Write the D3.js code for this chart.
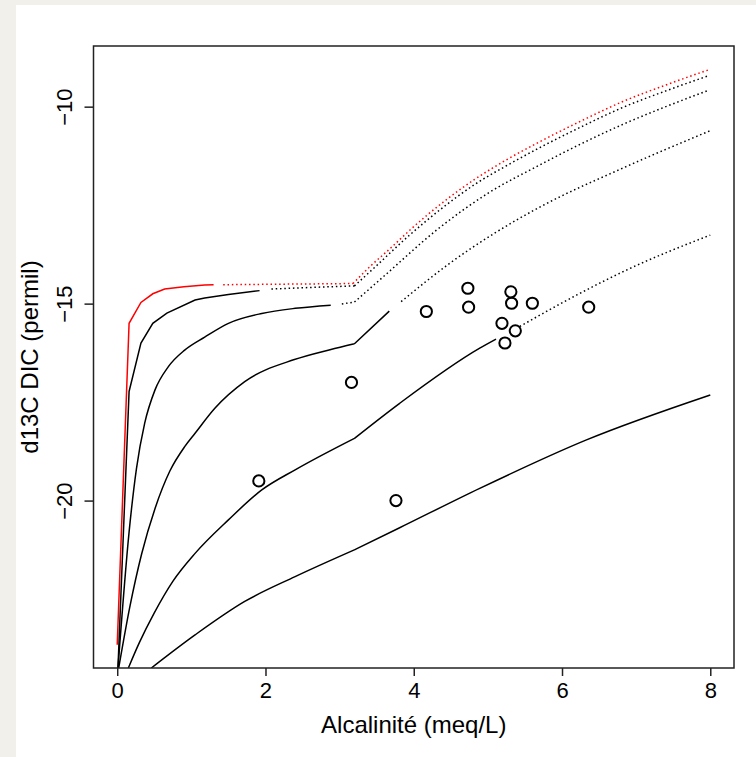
<!DOCTYPE html>
<html lang="fr">
<head>
  <meta charset="UTF-8">
  <title>d13C DIC vs Alcalinité</title>
  <style>
    body { margin: 0; background: #f1f0ea; }
    .canvas { position: absolute; left: 16px; top: 5px; width: 740px; height: 752px; background: #fff; }
    svg { position: absolute; left: 0; top: 0; }
    text { font-family: "Liberation Sans", Arial, sans-serif; fill: #000; }
  </style>
</head>
<body>
  <div class="canvas"></div>
  <svg id="chart"></svg>
  <script src="https://d3js.org/d3.v7.min.js"></script>
  <script>
    // observed samples
    const alkalinity = [4.73, 5.31, 4.17, 4.74, 5.32, 5.60, 6.36, 5.19, 5.37, 5.23, 3.16, 1.91, 3.76];
    const d13c = [-14.61, -14.70, -15.20, -15.09, -14.99, -14.99, -15.09, -15.50, -15.69, -16.0, -17.0, -19.5, -20.0];

    // model curves, solid part then dotted part
    const redSolid = [[0, -23.66], [0.16, -15.5], [0.32, -14.97], [0.48, -14.75], [0.64, -14.63], [0.9, -14.57], [1.18, -14.53], [1.30, -14.52]];
    const redDotted = [[1.43, -14.52], [2.0, -14.51], [2.6, -14.5], [3.18, -14.49], [3.41, -14.06], [3.7, -13.57], [3.95, -13.13], [4.4, -12.42], [4.81, -11.86], [5.25, -11.35], [5.70, -10.89], [6.25, -10.37], [6.82, -9.87], [7.4, -9.45], [7.97, -9.07]];

    const curve2Solid = [[0.01, -24.25], [0.16, -17.23], [0.32, -16.0], [0.48, -15.5], [0.67, -15.24], [1.05, -14.91], [1.18, -14.86], [1.5, -14.77], [1.92, -14.67]];
    const curve2Dotted = [[2.08, -14.63], [2.6, -14.59], [3.2, -14.55], [3.45, -14.12], [3.95, -13.25], [4.4, -12.55], [4.81, -11.99], [5.25, -11.5], [5.70, -11.04], [6.25, -10.52], [6.82, -10.02], [7.4, -9.6], [7.97, -9.22]];

    const curve3Solid = [[0.01, -24.25], [0.16, -20.8], [0.26, -19.18], [0.37, -18.04], [0.51, -17.19], [0.69, -16.6], [0.91, -16.18], [1.18, -15.85], [1.5, -15.5], [1.95, -15.25], [2.4, -15.12], [2.88, -15.04]];
    const curve3Dotted = [[3.03, -15.01], [3.2, -14.96], [3.6, -14.3], [4.31, -13.13], [5.0, -12.2], [5.70, -11.48], [6.25, -10.95], [6.82, -10.45], [7.4, -10.0], [7.97, -9.59]];

    const curve4Solid = [[0.02, -24.25], [0.17, -22.7], [0.33, -21.35], [0.51, -20.2], [0.71, -19.25], [0.91, -18.63], [1.05, -18.29], [1.32, -17.65], [1.72, -16.98], [2.39, -16.42], [2.87, -16.17], [3.2, -16.02], [3.67, -15.19]];
    const curve4Dotted = [[3.83, -14.95], [4.49, -13.97], [5.1, -13.2], [5.70, -12.55], [6.82, -11.56], [8.0, -10.61]];

    const curve5Solid = [[0.15, -24.25], [0.3, -23.6], [0.5, -22.85], [0.75, -22.05], [1.05, -21.34], [1.5, -20.49], [1.95, -19.73], [2.4, -19.22], [3.2, -18.42], [3.81, -17.53], [4.89, -16.13], [5.11, -15.9]];
    const curve5Dotted = [[5.43, -15.58], [6.2, -14.78], [6.89, -14.13], [8.0, -13.26]];

    const curve6Solid = [[0.46, -24.25], [1.05, -23.41], [1.72, -22.56], [2.4, -21.93], [3.2, -21.25], [3.81, -20.69], [4.89, -19.69], [6.33, -18.46], [8.0, -17.32]];

    const xTicks = [0, 2, 4, 6, 8];
    const yTicks = [-10, -15, -20];
    const kinkX = 3.2;

    const width = 756;
    const height = 757;
    const box = {left: 93.5, top: 46, right: 734, bottom: 668};

    const svg = d3.select('#chart')
      .attr('width', width)
      .attr('height', height);

    const x = d3.scaleLinear().domain([-0.32, 8.32]).range([box.left, box.right]);
    const y = d3.scaleLinear().domain([-24.25, -8.46]).range([box.bottom, box.top]);

    svg.append('clipPath').attr('id', 'plotclip')
      .append('rect')
      .attr('x', box.left).attr('y', box.top)
      .attr('width', box.right - box.left).attr('height', box.bottom - box.top);

    const smooth = d3.line().x(d => x(d[0])).y(d => y(d[1])).curve(d3.curveMonotoneX);
    const straight = d3.line().x(d => x(d[0])).y(d => y(d[1]));

    // the model has a sharp break at the kink, so smooth each side on its own
    function smoothPath(data) {
      const k = data.findIndex(d => Math.abs(d[0] - kinkX) < 0.03);
      if (k <= 0 || k >= data.length - 1) return smooth(data);
      return smooth(data.slice(0, k + 1)) + smooth(data.slice(k));
    }

    const plot = svg.append('g').attr('clip-path', 'url(#plotclip)');

    const curves = [
      {data: redSolid, color: '#ff0000', dotted: false, poly: true},
      {data: redDotted, color: '#ff0000', dotted: true},
      {data: curve2Solid, color: '#000', dotted: false, poly: true},
      {data: curve2Dotted, color: '#000', dotted: true},
      {data: curve3Solid, color: '#000', dotted: false},
      {data: curve3Dotted, color: '#000', dotted: true},
      {data: curve4Solid, color: '#000', dotted: false},
      {data: curve4Dotted, color: '#000', dotted: true},
      {data: curve5Solid, color: '#000', dotted: false},
      {data: curve5Dotted, color: '#000', dotted: true},
      {data: curve6Solid, color: '#000', dotted: false}
    ];

    plot.selectAll('path.curve')
      .data(curves)
      .enter()
      .append('path')
      .attr('class', 'curve')
      .attr('d', d => d.poly ? straight(d.data) : smoothPath(d.data))
      .attr('fill', 'none')
      .attr('stroke', d => d.color)
      .attr('stroke-width', 1.5)
      .attr('stroke-dasharray', d => d.dotted ? '1.5,2.8' : null);

    plot.selectAll('circle')
      .data(alkalinity.map((a, i) => [a, d13c[i]]))
      .enter()
      .append('circle')
      .attr('cx', d => x(d[0]))
      .attr('cy', d => y(d[1]))
      .attr('r', 5.6)
      .attr('fill', 'none')
      .attr('stroke', '#000')
      .attr('stroke-width', 2);

    // R-style axes: box + ticks outside
    svg.append('rect')
      .attr('x', box.left).attr('y', box.top)
      .attr('width', box.right - box.left).attr('height', box.bottom - box.top)
      .attr('fill', 'none').attr('stroke', '#222').attr('stroke-width', 1.5);

    const xAxis = d3.axisBottom(x).tickValues(xTicks).tickSize(8).tickPadding(5).tickFormat(d3.format('d'));
    const yAxis = d3.axisLeft(y).tickValues(yTicks).tickSize(9).tickFormat(d => '\u2212' + Math.abs(d));

    const gX = svg.append('g')
      .attr('transform', `translate(0, ${box.bottom})`)
      .call(xAxis);
    gX.select('.domain').remove();
    gX.selectAll('line').attr('stroke', '#222').attr('stroke-width', 1.5);
    gX.selectAll('text')
      .attr('dy', null).attr('y', 30)
      .style('font-size', '22px')
      .style('font-family', '"Liberation Sans", Arial, sans-serif');

    const gY = svg.append('g')
      .attr('transform', `translate(${box.left}, 0)`)
      .call(yAxis);
    gY.select('.domain').remove();
    gY.selectAll('line').attr('stroke', '#222').attr('stroke-width', 1.5);
    gY.selectAll('text')
      .attr('x', null).attr('dy', null)
      .attr('text-anchor', 'middle')
      .attr('transform', 'translate(-22, 0) rotate(-90)')
      .style('font-size', '22px')
      .style('font-family', '"Liberation Sans", Arial, sans-serif');

    svg.append('text')
      .attr('x', (box.left + box.right) / 2)
      .attr('y', 733)
      .attr('text-anchor', 'middle')
      .style('font-size', '24px')
      .text('Alcalinité (meq/L)');

    svg.append('text')
      .attr('transform', `translate(38, ${(box.top + box.bottom) / 2}) rotate(-90)`)
      .attr('text-anchor', 'middle')
      .style('font-size', '24px')
      .text('d13C DIC (permil)');
  </script>
</body>
</html>
